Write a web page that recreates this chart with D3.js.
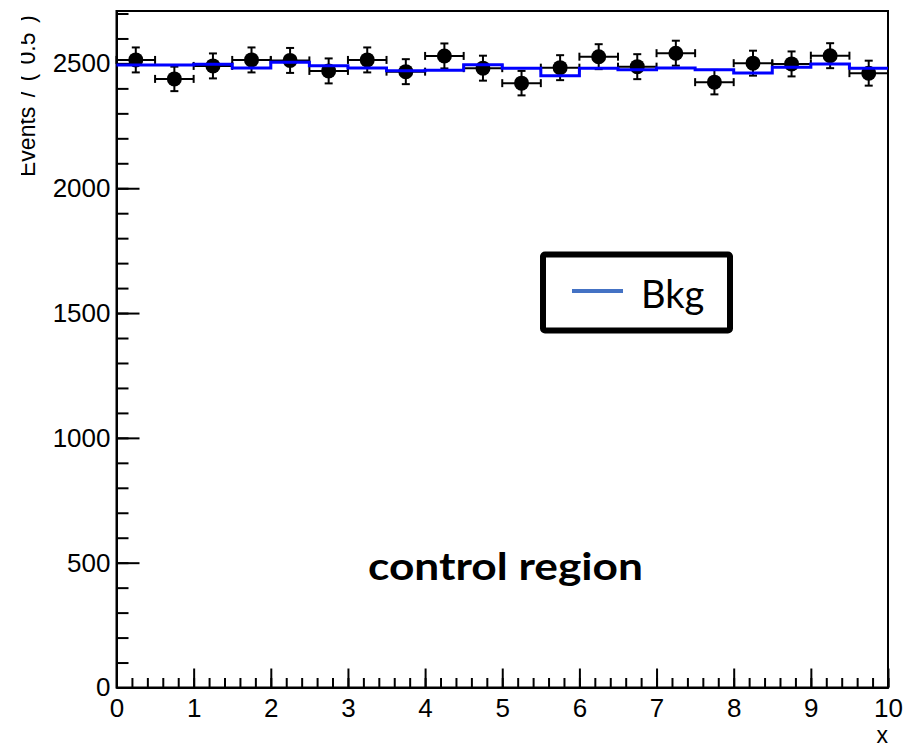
<!DOCTYPE html>
<html>
<head>
<meta charset="utf-8">
<script src="https://cdn.jsdelivr.net/npm/d3@7"></script>
<style>
  body { margin: 0; background: #fff; }
</style>
</head>
<body>
<div id="chart"></div>
<script>
// bins of width 0.5 in x
const binCenters = [0.25, 0.75, 1.25, 1.75, 2.25, 2.75, 3.25, 3.75, 4.25, 4.75,
                    5.25, 5.75, 6.25, 6.75, 7.25, 7.75, 8.25, 8.75, 9.25, 9.75];
const binHalfWidth = 0.25;
// data points (events per bin) and their errors
const dataCounts = [2514, 2438, 2490, 2514, 2512, 2470, 2514, 2467, 2530, 2481,
                    2421, 2483, 2527, 2487, 2541, 2425, 2501, 2498, 2531, 2461];
const dataErrors = [50, 49, 50, 50, 50, 50, 50, 50, 50, 50,
                    49, 50, 50, 50, 50, 49, 50, 50, 50, 50];
// background histogram
const bkgLevels = [2494, 2494, 2497, 2482, 2505, 2491, 2482, 2471, 2473, 2495,
                   2481, 2451, 2481, 2475, 2482, 2475, 2462, 2485, 2498, 2481];

const xMajor = [0, 1, 2, 3, 4, 5, 6, 7, 8, 9, 10];
const yMajor = [0, 500, 1000, 1500, 2000, 2500];

const svgWidth = 908;
const svgHeight = 747;
const axisFont = "'Liberation Sans', Arial, Helvetica, sans-serif";

const svg = d3.select("#chart")
  .append("svg")
  .attr("width", svgWidth)
  .attr("height", svgHeight);

const x = d3.scaleLinear().domain([0, 10]).range([116.5, 888]);
const y = d3.scaleLinear().domain([0, 2710]).range([687.5, 11]);

// minor ticks
const xMinor = d3.range(0, 10.001, 0.2).map(v => +v.toFixed(1));
const yMinor = d3.range(0, 2701, 100);

function styleAxis(g) {
  g.selectAll("line").attr("stroke", "#000").attr("stroke-width", 2);
  g.select(".domain").attr("stroke", "#000").attr("stroke-width", 2);
  g.selectAll("text")
    .style("font-family", axisFont)
    .style("font-size", "26px")
    .attr("fill", "#000");
}

svg.append("g")
  .attr("transform", `translate(0, ${y(0)})`)
  .call(d3.axisBottom(x).tickValues(xMinor).tickFormat("").tickSizeInner(-9.5).tickSizeOuter(0))
  .call(styleAxis);

svg.append("g")
  .attr("transform", `translate(0, ${y(0)})`)
  .call(d3.axisBottom(x).tickValues(xMajor).tickFormat(d3.format("d")).tickSizeInner(-19).tickSizeOuter(0).tickPadding(11))
  .call(styleAxis);

svg.append("g")
  .attr("transform", `translate(${x(0)}, 0)`)
  .call(d3.axisLeft(y).tickValues(yMinor).tickFormat("").tickSizeInner(-12).tickSizeOuter(0))
  .call(styleAxis);

svg.append("g")
  .attr("transform", `translate(${x(0)}, 0)`)
  .call(d3.axisLeft(y).tickValues(yMajor).tickFormat(d3.format("d")).tickSizeInner(-23).tickSizeOuter(0).tickPadding(6))
  .call(styleAxis);

// frame
svg.append("rect")
  .attr("x", x(0))
  .attr("y", y(2710))
  .attr("width", x(10) - x(0))
  .attr("height", y(0) - y(2710))
  .attr("fill", "none")
  .attr("stroke", "#000")
  .attr("stroke-width", 2);

// axis titles
svg.append("text")
  .attr("x", 888)
  .attr("y", 743)
  .attr("text-anchor", "end")
  .style("font-family", axisFont)
  .style("font-size", "23px")
  .text("x");

// the y title is cut at the left edge in the original
svg.append("clipPath")
  .attr("id", "ytitle-clip")
  .append("rect")
  .attr("x", 21).attr("y", 0).attr("width", 40).attr("height", 300);

svg.append("g")
  .attr("clip-path", "url(#ytitle-clip)")
  .append("text")
  .attr("transform", "translate(35, 177) rotate(-90)")
  .attr("text-anchor", "start")
  .style("font-family", axisFont)
  .style("font-size", "23px")
  .style("word-spacing", "3px")
  .text("Events / ( 0.5 )");

// data points with error bars
const pts = svg.append("g");
const cap = 4;
binCenters.forEach((c, i) => {
  const cx = x(c), cy = y(dataCounts[i]);
  const x1 = x(c - binHalfWidth), x2 = x(c + binHalfWidth);
  const y1 = y(dataCounts[i] + dataErrors[i]), y2 = y(dataCounts[i] - dataErrors[i]);
  const g = pts.append("g").attr("stroke", "#000").attr("stroke-width", 2);
  g.append("line").attr("x1", x1).attr("x2", x2).attr("y1", cy).attr("y2", cy);
  g.append("line").attr("x1", cx).attr("x2", cx).attr("y1", y1).attr("y2", y2);
  g.append("line").attr("x1", x1).attr("x2", x1).attr("y1", cy - cap).attr("y2", cy + cap);
  g.append("line").attr("x1", x2).attr("x2", x2).attr("y1", cy - cap).attr("y2", cy + cap);
  g.append("line").attr("x1", cx - cap).attr("x2", cx + cap).attr("y1", y1).attr("y2", y1);
  g.append("line").attr("x1", cx - cap).attr("x2", cx + cap).attr("y1", y2).attr("y2", y2);
  pts.append("circle").attr("cx", cx).attr("cy", cy).attr("r", 7.5).attr("fill", "#000");
});

// background step histogram
const steps = [];
binCenters.forEach((c, i) => {
  steps.push([c - binHalfWidth, bkgLevels[i]]);
  steps.push([c + binHalfWidth, bkgLevels[i]]);
});
svg.append("path")
  .datum(steps)
  .attr("fill", "none")
  .attr("stroke", "#0000ff")
  .attr("stroke-width", 3)
  .attr("d", d3.line().x(d => x(d[0])).y(d => y(d[1])));

// legend
const legend = svg.append("g");
legend.append("rect")
  .attr("x", 543).attr("y", 254.5)
  .attr("width", 187).attr("height", 76)
  .attr("rx", 2)
  .attr("fill", "#fff")
  .attr("stroke", "#000")
  .attr("stroke-width", 6);
legend.append("line")
  .attr("x1", 572).attr("x2", 623)
  .attr("y1", 291).attr("y2", 291)
  .attr("stroke", "#4472c4")
  .attr("stroke-width", 4);
legend.append("text")
  .attr("x", 641)
  .attr("y", 308)
  .style("font-family", "Lato, Calibri, sans-serif")
  .style("font-size", "38px")
  .text("Bkg");

svg.append("text")
  .attr("x", 368)
  .attr("y", 580)
  .attr("textLength", 275)
  .attr("lengthAdjust", "spacingAndGlyphs")
  .style("font-family", "Lato, Calibri, sans-serif")
  .style("font-weight", "bold")
  .style("font-size", "38px")
  .text("control region");
</script>
</body>
</html>
